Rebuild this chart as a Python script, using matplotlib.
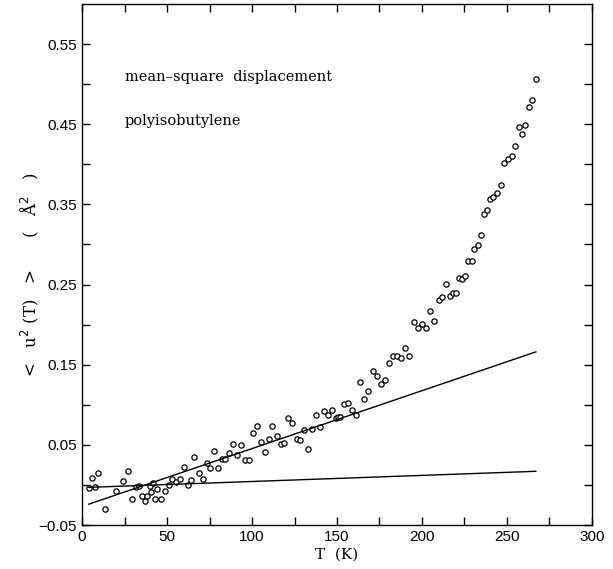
import numpy as np
import matplotlib
matplotlib.use("Agg")
import matplotlib.pyplot as plt
from matplotlib.ticker import MultipleLocator, FixedFormatter, FixedLocator

T = [3.9, 5.9, 7.8, 9.4, 13.7, 20.0, 24.1, 27.3, 29.4, 31.8, 33.7, 35.3, 36.9,
     38.0, 39.8, 40.6, 41.6, 42.8, 44.3, 46.3, 48.6, 51.0, 53.1, 55.5, 57.4,
     59.8, 62.2, 64.3, 65.9, 69.0, 71.0, 73.3, 75.3, 77.6, 79.8, 82.2, 84.3,
     86.7, 89.0, 91.4, 93.7, 95.9, 98.0, 100.4, 102.7, 105.0, 107.5, 109.8,
     112.0, 114.5, 116.9, 118.8, 121.2, 123.3, 126.3, 128.4, 130.8, 133.1,
     135.5, 137.8, 140.2, 142.5, 144.7, 147.1, 149.2, 150.4, 151.6, 154.1,
     156.5, 158.8, 161.2, 163.7, 166.1, 168.4, 171.0, 173.3, 175.7, 178.1,
     180.4, 182.8, 185.1, 187.5, 190.2, 192.5, 195.3, 197.5, 200.0, 202.5,
     204.9, 207.2, 209.8, 212.0, 214.1, 216.3, 218.0, 219.8, 221.8, 223.5,
     225.3, 227.3, 229.6, 230.8, 232.8, 234.5, 236.5, 238.2, 240.0, 241.8,
     244.1, 246.3, 248.4, 250.6, 252.8, 254.7, 257.1, 259.0, 260.8, 262.8,
     264.9, 267.1]
u2 = [-0.0035, 0.0082, -0.0022, 0.0145, -0.0304, -0.0072, 0.0052, 0.0173,
      -0.0172, -0.0026, -0.0014, -0.0135, -0.0205, -0.0138, -0.0010, -0.0085,
      0.0020, -0.0180, -0.0050, -0.0180, -0.0080, -0.0005, 0.0077, 0.0032,
      0.0077, 0.0227, -0.0001, 0.0061, 0.0350, 0.0150, 0.0080, 0.0270, 0.0207,
      0.0427, 0.0214, 0.0320, 0.0327, 0.0400, 0.0514, 0.0377, 0.0498, 0.0307,
      0.0307, 0.0643, 0.0734, 0.0535, 0.0414, 0.0569, 0.0738, 0.0610, 0.0514,
      0.0522, 0.0830, 0.0776, 0.0576, 0.0556, 0.0688, 0.0444, 0.0700, 0.0868,
      0.0718, 0.0925, 0.0868, 0.0934, 0.0834, 0.0843, 0.0850, 0.1013, 0.1021,
      0.0934, 0.0872, 0.1287, 0.1075, 0.1171, 0.1424, 0.1358, 0.1254, 0.1308,
      0.1516, 0.1603, 0.1611, 0.1586, 0.1703, 0.1607, 0.2027, 0.1960, 0.2003,
      0.1960, 0.2168, 0.2047, 0.2309, 0.2347, 0.2505, 0.2359, 0.2393, 0.2389,
      0.2576, 0.2567, 0.2605, 0.2796, 0.2796, 0.2938, 0.2991, 0.3116, 0.3374,
      0.3428, 0.3565, 0.3586, 0.3648, 0.3739, 0.4014, 0.4067, 0.4101, 0.4230,
      0.4466, 0.4375, 0.4496, 0.4721, 0.4808, 0.5070]

# straight-line fits drawn in the figure (end points)
fit_T = [4, 267]
fit_low = [-0.003, 0.017]
fit_high = [-0.024, 0.166]

fig = plt.figure(figsize=(6.13, 5.69), dpi=100)
ax = fig.add_axes([0.1338, 0.0773, 0.8319, 0.9157])

ax.plot(T, u2, 'o', mfc='white', mec='black', ms=3.8, mew=0.9, ls='none')
ax.plot(fit_T, fit_low, color='black', lw=1.0)
ax.plot(fit_T, fit_high, color='black', lw=1.0)

ax.set_xlim(0, 300)
ax.set_ylim(-0.05, 0.6)

ax.xaxis.set_major_locator(MultipleLocator(50))
ax.xaxis.set_minor_locator(MultipleLocator(25))
yt = [-0.05, 0.05, 0.15, 0.25, 0.35, 0.45, 0.55]
ax.yaxis.set_major_locator(FixedLocator(yt))
ax.yaxis.set_major_formatter(FixedFormatter(['\u22120.05', '0.05', '0.15', '0.25',
                                             '0.35', '0.45', '0.55']))
ax.yaxis.set_minor_locator(FixedLocator([0.0, 0.1, 0.2, 0.3, 0.4, 0.5]))
ax.tick_params(which='both', direction='in', top=True, right=True,
               length=6, width=1.0, labelsize=11)
for lab in ax.get_xticklabels() + ax.get_yticklabels():
    lab.set_family('Liberation Sans')
for sp in ax.spines.values():
    sp.set_linewidth(1.0)

ax.text(25, 0.509, 'mean\u2013square  displacement', family='DejaVu Serif',
        fontsize=10.5, va='center')
ax.text(25, 0.454, 'polyisobutylene', family='DejaVu Serif',
        fontsize=10.5, va='center')

ax.set_xlabel('T  (K)', family='DejaVu Serif', fontsize=11, labelpad=3)
ax.set_ylabel('<   u$^2$ (T)   >      (   \u00c5$^2$   )', family='DejaVu Serif',
              fontsize=12)
ax.yaxis.set_label_coords(-0.08, 0.48)

fig.savefig('out.png', dpi=100)
